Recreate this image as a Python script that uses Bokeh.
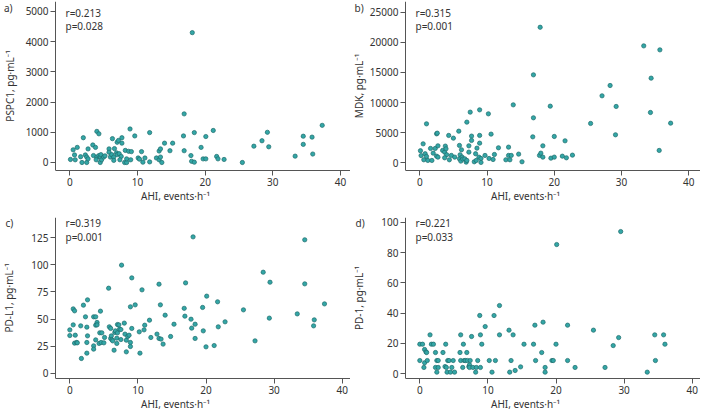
from bokeh.plotting import figure
from bokeh.layouts import gridplot
from bokeh.models import Label, FixedTicker, Range1d
from bokeh.embed import file_html
from bokeh.resources import INLINE

FONT = "Noto Sans"
FILL = "#33a6a6"
EDGE = "#1d6b6b"
TXT = "#333333"
AX = "#555555"

x_ticks = [0, 10, 20, 30, 40]
x_label = "AHI, events\u00b7h\u207b\u00b9"

# Panel a: PSPC1
ahi_a = [0.1, 0.5, 0.7, 1.1, 0.8, 1.6, 1.8, 2.0, 2.3, 2.5,
         2.7, 2.5, 2.7, 3.4, 3.8, 4.0, 4.3, 3.5, 4.0, 4.3,
         4.5, 4.5, 4.7, 4.6, 5.0, 5.2, 3.9, 5.8, 5.8, 6.0,
         6.2, 6.3, 6.5, 6.6, 6.9, 6.5, 7.0, 7.2, 7.0, 7.3,
         7.6, 7.4, 7.7, 7.7, 8.2, 8.1, 8.4, 8.4, 8.7, 8.9,
         9.1, 9.0, 9.6, 10.1, 10.3, 10.6, 10.8, 11.1, 11.8, 11.8,
         12.8, 13.2, 13.4, 13.2, 13.6, 13.4, 14.0, 14.8, 15.2, 16.8,
         16.9, 16.9, 18.1, 17.9, 18.0, 18.4, 18.4, 19.4, 19.7, 20.1,
         20.1, 21.2, 21.7, 21.9, 22.8, 25.5, 27.2, 28.4, 29.2, 29.4,
         33.3, 34.5, 34.5, 35.8, 35.9, 37.3]
pspc1 = [100, 420, 250, 500, 90, 190, 0, 820, 250, 0,
         450, 180, 120, 580, 500, 1030, 950, 230, 180, 230,
         180, 0, 90, 260, 180, 220, 90, 450, 340, 180,
         260, 790, 180, 460, 320, 70, 670, 730, 260, 290,
         200, 90, 820, 640, 400, 0, 0, 120, 370, 1110,
         360, 90, 880, 150, 110, 360, 10, 150, 990, 20,
         150, 380, 450, 90, 0, 180, 640, 390, 640, 880,
         1610, 390, 4300, 230, 40, 990, 10, 500, 120, 120,
         860, 1060, 200, 120, 100, 0, 540, 720, 1000, 520,
         210, 870, 600, 840, 280, 1230]
pspc1_ticks = [0, 1000, 2000, 3000, 4000, 5000]

# Panel b: MDK
ahi_b = [0.1, 0.2, 0.5, 0.6, 0.8, 1.0, 1.0, 1.2, 1.6, 1.8,
         2.0, 2.3, 2.5, 2.6, 2.7, 2.5, 2.7, 3.4, 3.7, 3.8,
         3.9, 4.0, 3.7, 4.3, 4.4, 4.7, 5.0, 5.2, 5.8, 5.9,
         6.0, 6.2, 5.9, 6.3, 6.1, 6.4, 6.7, 6.9, 7.0, 7.0,
         7.3, 7.3, 7.5, 7.7, 7.7, 8.1, 8.3, 8.4, 8.5, 8.9,
         8.9, 8.9, 8.8, 9.1, 9.1, 9.7, 10.2, 10.3, 10.6, 10.9,
         11.1, 11.7, 12.8, 13.2, 13.2, 13.4, 13.6, 13.9, 14.7, 15.2,
         16.8, 16.9, 16.9, 17.8, 18.0, 17.9, 18.3, 18.3, 19.4, 19.5,
         20.0, 20.0, 21.2, 21.6, 21.8, 22.7, 25.4, 27.1, 28.3, 29.1,
         29.2, 33.3, 34.4, 34.3, 35.7, 35.6, 37.3]
mdk = [2000, 1200, 3150, 500, 1500, 6470, 1050, 390, 2380, 390,
       1600, 2380, 4810, 4920, 2820, 1100, 940, 2050, 1770, 2770,
       2320, 1330, 830, 4540, 500, 1220, 4090, 940, 5250, 2880,
       1330, 2160, 660, 940, 280, 610, 660, 110, 6750, 390,
       2820, 1770, 8410, 4430, 3710, 170, 1500, 390, 2430, 8790,
       4540, 3260, 940, 720, 60, 1220, 8130, 720, 4760, 550,
       1380, 2490, 500, 2600, 1220, 500, 1220, 9620, 1440, 170,
       4310, 14600, 7470, 1220, 1600, 22500, 2820, 940, 9400, 770,
       940, 4370, 1100, 3650, 830, 1270, 6530, 11120, 12830, 4650,
       9350, 19410, 14050, 8350, 18750, 2050, 6580]
mdk_ticks = [0, 5000, 10000, 15000, 20000, 25000]

# Panel c: PD-L1
ahi_c = [0.0, 0.0, 0.5, 0.7, 0.5, 0.8, 0.7, 1.0, 1.1, 1.6,
         1.7, 2.0, 2.3, 2.5, 2.5, 2.6, 2.6, 2.5, 3.5, 3.8,
         3.5, 3.5, 3.8, 3.8, 4.0, 4.0, 4.3, 4.4, 4.5, 4.6,
         4.7, 5.0, 5.1, 5.7, 5.8, 6.0, 6.0, 6.1, 6.2, 6.3,
         6.5, 6.6, 6.7, 7.0, 6.9, 6.9, 7.0, 7.2, 7.3, 7.5,
         7.6, 7.5, 8.0, 8.1, 8.3, 8.3, 8.5, 8.7, 8.9, 8.9,
         8.9, 9.1, 9.1, 9.6, 10.2, 10.3, 10.6, 10.9, 11.0, 11.7,
         11.9, 12.8, 13.1, 13.1, 13.3, 13.4, 13.7, 14.0, 14.8, 15.3,
         16.8, 17.0, 16.9, 17.8, 17.9, 18.1, 18.4, 18.4, 19.5, 19.6,
         20.0, 20.1, 21.2, 21.7, 21.8, 22.8, 25.5, 27.2, 28.4, 29.3,
         29.4, 33.4, 34.5, 34.5, 35.8, 35.9, 37.4]
pdl1 = [40.1, 34.9, 59.4, 57.6, 44.7, 35.2, 27.9, 28.5, 28.2, 43.8,
        13.8, 62.8, 52.1, 42.6, 28.5, 34.6, 67.7, 18.7, 52.1, 52.1,
        25.4, 22.4, 30.9, 44.4, 46.9, 44.7, 27.6, 37.4, 57.3, 28.5,
        37.4, 28.2, 33.1, 78.4, 42.9, 41.4, 32.2, 34.6, 30.9, 30.0,
        21.4, 37.7, 39.2, 45.0, 32.5, 27.6, 37.4, 44.7, 40.7, 40.4,
        99.6, 31.2, 46.3, 36.2, 30.6, 19.9, 34.0, 35.2, 61.3, 28.5,
        24.8, 41.4, 87.9, 63.1, 38.3, 18.7, 76.9, 40.1, 44.4, 49.0,
        33.1, 36.2, 82.1, 32.2, 63.1, 31.6, 27.0, 53.6, 34.0, 45.3,
        59.9, 83.3, 52.7, 49.9, 41.7, 125.6, 45.3, 32.2, 60.7, 39.2,
        24.5, 71.1, 25.7, 65.9, 42.9, 47.5, 58.5, 30.0, 93.1, 50.9,
        83.9, 54.8, 122.9, 82.4, 43.8, 49.3, 64.0]
pdl1_ticks = [0, 25, 50, 75, 100, 125]

# Panel d: PD-1
ahi_d = [0.0, 0.0, 0.4, 0.6, 0.7, 0.7, 0.9, 1.0, 1.1, 1.5,
         1.7, 2.0, 2.3, 2.3, 2.5, 2.5, 2.7, 2.7, 3.4, 3.7,
         3.8, 3.9, 4.0, 4.1, 4.3, 4.5, 4.7, 4.9, 5.1, 5.9,
         6.0, 6.0, 6.3, 6.4, 6.5, 6.7, 6.9, 7.0, 7.2, 7.3,
         7.3, 7.4, 7.6, 7.8, 8.2, 8.3, 8.5, 8.8, 8.9, 8.9,
         9.1, 9.6, 10.2, 10.6, 10.9, 11.1, 11.7, 11.7, 13.1, 13.2,
         13.4, 13.7, 14.0, 14.8, 15.3, 16.7, 16.9, 17.0, 17.9, 18.1,
         18.4, 18.4, 19.4, 19.6, 20.0, 20.1, 21.7, 21.7, 22.8, 25.5,
         27.2, 28.4, 29.2, 29.5, 33.4, 34.5, 34.6, 35.8, 36.0]
pd1 = [8.6, 19.4, 19.4, 4.0, 7.1, 15.9, 14.3, 13.9, 8.6, 25.6,
       19.4, 19.4, 13.9, 4.0, 0.9, 8.6, 8.6, 4.0, 13.9, 4.6,
       19.4, 4.0, 0.9, 8.6, 8.6, 0.9, 4.0, 8.6, 0.9, 13.9,
       25.6, 8.6, 4.0, 19.4, 8.6, 8.6, 13.9, 8.6, 4.6, 5.7,
       4.0, 8.6, 24.5, 4.0, 0.9, 4.0, 8.6, 38.4, 25.6, 4.0,
       19.4, 31.1, 8.6, 0.9, 38.4, 8.6, 45.0, 25.6, 28.7, 0.9,
       8.6, 25.6, 2.0, 4.4, 19.4, 19.4, 32.0, 8.6, 13.9, 34.0,
       4.0, 0.9, 8.6, 8.6, 19.4, 85.4, 32.0, 8.6, 4.0, 28.7,
       4.0, 18.5, 23.8, 94.0, 0.9, 25.6, 8.6, 25.6, 19.4]
pd1_ticks = [0, 20, 40, 60, 80, 100]


def panel(xs, ys, x_rng, y_axis_x, y_rng, yticks, ylabel, letter, letter_x,
          r_txt, p_txt, top, standoff):
    h = 207
    mb_top = 1 if top else 10
    mb_bot = 37 if top else 36
    fh = h - mb_top - mb_bot
    p = figure(width=350, height=h, output_backend="svg", toolbar_location=None,
               x_range=Range1d(*x_rng), y_range=Range1d(*y_rng),
               min_border_left=0, min_border_right=0,
               min_border_top=mb_top, min_border_bottom=mb_bot)
    p.outline_line_color = None
    p.grid.visible = False
    p.scatter(xs, ys, size=4.3, fill_color=FILL, line_color=EDGE, line_width=0.7)

    for ax in (p.xaxis[0], p.yaxis[0]):
        ax.axis_line_color = AX
        ax.major_tick_line_color = AX
        ax.major_tick_out = 5
        ax.major_tick_in = 0
        ax.minor_tick_line_color = None
        ax.major_label_text_font = FONT
        ax.major_label_text_font_size = "10px"
        ax.major_label_text_color = TXT
        ax.axis_label_text_font = FONT
        ax.axis_label_text_font_size = "10px"
        ax.axis_label_text_font_style = "normal"
        ax.axis_label_text_color = TXT
        ax.major_label_standoff = 2

    p.xaxis.ticker = FixedTicker(ticks=x_ticks)
    p.xaxis.axis_label = x_label
    p.xaxis.axis_label_standoff = 0
    p.xaxis.bounds = (y_axis_x, x_rng[1])

    p.yaxis.fixed_location = y_axis_x
    p.yaxis.ticker = FixedTicker(ticks=yticks)
    p.yaxis.axis_label = ylabel
    p.yaxis.axis_label_standoff = standoff

    dy_letter = 6.0 if top else 5.0
    dy_r = 11.3 if top else 5.7
    dy_p = 24 if top else 19
    for txt, x, dy in ((letter, letter_x, dy_letter), (r_txt, 65, dy_r), (p_txt, 65, dy_p)):
        p.add_layout(Label(x=x, y=fh - dy, x_units="screen", y_units="screen",
                           text=txt, text_font=FONT, text_font_size="10px",
                           text_color=TXT, text_baseline="middle", text_align="left"))
    return p


pa = panel(ahi_a, pspc1, (-10.24, 41.48), -2.11, (-265, 5331), pspc1_ticks,
           "PSPC1, pg\u00b7mL\u207b\u00b9", "a)", 3.5, "r=0.213", "p=0.028", True, 6)
pb = panel(ahi_b, mdk, (-10.30, 41.74), -2.13, (-1278, 26776), mdk_ticks,
           "MDK, pg\u00b7mL\u207b\u00b9", "b)", 4, "r=0.315", "p=0.001", True, 1)
pc = panel(ahi_c, pdl1, (-10.18, 41.22), -2.10, (-4.6, 143.4), pdl1_ticks,
           "PD-L1, pg\u00b7mL\u207b\u00b9", "c)", 5, "r=0.319", "p=0.001", False, 12)
pd_ = panel(ahi_d, pd1, (-10.18, 41.22), -2.10, (-3.3, 103.3), pd1_ticks,
            "PD-1, pg\u00b7mL\u207b\u00b9", "d)", 5, "r=0.221", "p=0.033", False, 12)

grid = gridplot([[pa, pb], [pc, pd_]], toolbar_location=None)

open("out.html", "w").write(file_html(grid, INLINE))
